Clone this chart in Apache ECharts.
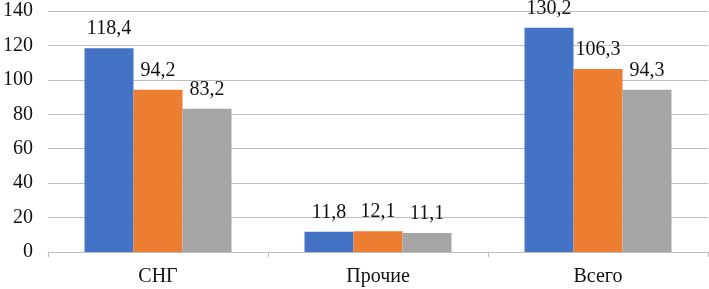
<!DOCTYPE html>
<html><head><meta charset="utf-8">
<script src="https://cdn.jsdelivr.net/npm/echarts@6/dist/echarts.min.js"></script>
<style>html,body{margin:0;padding:0;background:#fff}#c{width:709px;height:289px}</style>
</head><body><div id="c"></div>
<script>
var categories = ['СНГ', 'Прочие', 'Всего'];
var series1 = [118.4, 11.8, 130.2];
var series2 = [94.2, 12.1, 106.3];
var series3 = [83.2, 11.1, 94.3];
var colors = ['#4472C4', '#ED7D31', '#A5A5A5'];
var FONT = '"Liberation Serif", "Times New Roman", serif';
function fmt(p){ return String(p.value).replace('.', ','); }
function mk(data, color){
  return {type:'bar', data:data, barWidth:49, barGap:'0%',
    itemStyle:{color:color},
    label:{show:true, position:'top', distance:9, formatter:fmt,
      fontFamily:FONT, fontSize:20, color:'#111'}};
}
var chart = echarts.init(document.getElementById('c'), null, {renderer:'canvas'});
chart.setOption({
  animation:false,
  grid:{left:43, right:1, top:11, bottom:37, containLabel:false},
  xAxis:{type:'category', data:categories,
    axisLine:{lineStyle:{color:'#bfbfbf'}},
    axisTick:{show:true, alignWithLabel:false, length:5, lineStyle:{color:'#bfbfbf'}},
    axisLabel:{fontFamily:FONT, fontSize:20, color:'#111', margin:15}},
  yAxis:{type:'value', min:0, max:140, interval:20,
    axisLine:{show:false}, axisTick:{show:false},
    splitLine:{lineStyle:{color:'#bfbfbf'}},
    axisLabel:{fontFamily:FONT, fontSize:20, color:'#111', margin:15}},
  series:[mk(series1, colors[0]), mk(series2, colors[1]), mk(series3, colors[2])]
});
</script></body></html>
